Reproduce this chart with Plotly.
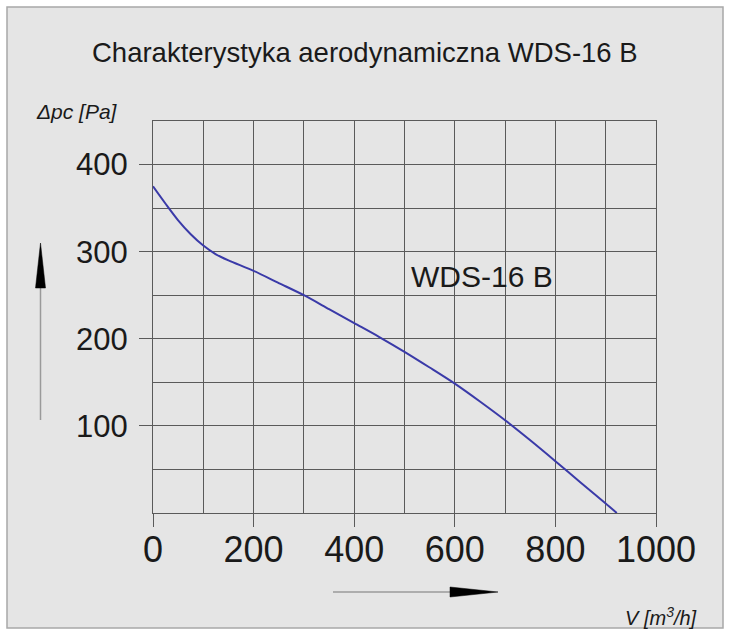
import plotly.graph_objects as go

# ---- data ----
flow_m3h = [0, 25, 50, 75, 100, 125, 150, 200, 250, 300, 350, 400, 450, 500,
            550, 600, 650, 700, 750, 800, 850, 900, 922]
pressure_pa = [375, 355, 336, 320, 307, 297, 290, 278, 264, 250, 234, 218, 202, 185,
               167, 148.5, 128, 106.5, 83.5, 59.5, 35, 11, 0]
x_tickvals = [0, 200, 400, 600, 800, 1000]
y_tickvals = [100, 200, 300, 400]
title_text = "Charakterystyka aerodynamiczna WDS-16 B"
series_label = "WDS-16 B"

W, H = 731, 631
L, R, T, B = 153, 75, 121, 118
PW, PH = W - L - R, H - T - B

def px(p):
    return (p - L) / PW

def py(p):
    return (H - B - p) / PH

FONT = "Liberation Sans, Arial, sans-serif"
GRID = "#5a5a5a"
BG = "#e5e5e5"

fig = go.Figure()
fig.add_trace(go.Scatter(
    x=flow_m3h, y=pressure_pa, mode="lines",
    line=dict(color="#3a3aa8", width=2, shape="spline", smoothing=0.8),
    hoverinfo="skip", showlegend=False,
))

shapes = [
    # outer frame
    dict(type="rect", xref="paper", yref="paper", layer="below",
         x0=px(7), x1=px(723), y0=py(628), y1=py(7),
         fillcolor=BG, line=dict(color="#a8a8a8", width=1.5)),
    # vertical arrow
    dict(type="line", xref="paper", yref="paper",
         x0=px(40.5), x1=px(40.5), y0=py(420), y1=py(285),
         line=dict(color="#9a9a9a", width=1.5)),
    dict(type="path", xref="paper", yref="paper",
         path=f"M {px(35.5)} {py(288)} L {px(45.5)} {py(288)} L {px(40.5)} {py(243)} Z",
         fillcolor="black", line=dict(color="black", width=0.5)),
    # horizontal arrow
    dict(type="line", xref="paper", yref="paper",
         x0=px(333), x1=px(455), y0=py(592), y1=py(592),
         line=dict(color="#9a9a9a", width=1.5)),
    dict(type="path", xref="paper", yref="paper",
         path=f"M {px(450)} {py(587)} L {px(450)} {py(597)} L {px(498)} {py(592)} Z",
         fillcolor="black", line=dict(color="black", width=0.5)),
]

annotations = [
    dict(text=title_text, xref="paper", yref="paper", x=px(365), y=py(52),
         xanchor="center", yanchor="middle", showarrow=False,
         font=dict(family=FONT, size=27.5, color="#1a1a1a")),
    dict(text="<i>Δpc [Pa]</i>", xref="paper", yref="paper", x=px(77), y=py(112),
         xanchor="center", yanchor="middle", showarrow=False,
         font=dict(family=FONT, size=21, color="#1a1a1a")),
    dict(text="<i>V [m<sup>3</sup>/h]</i>", xref="paper", yref="paper", x=px(699), y=py(616),
         xanchor="right", yanchor="middle", showarrow=False,
         font=dict(family=FONT, size=20, color="#1a1a1a")),
    dict(text=series_label, xref="x", yref="y", x=508, y=272,
         xanchor="left", yanchor="middle", showarrow=False,
         font=dict(family=FONT, size=30, color="#1a1a1a")),
]

fig.update_layout(
    width=W, height=H,
    margin=dict(l=L, r=R, t=T, b=B, pad=0),
    paper_bgcolor="white",
    plot_bgcolor=BG,
    shapes=shapes,
    annotations=annotations,
    showlegend=False,
    xaxis=dict(
        range=[0, 1000], tickvals=x_tickvals, ticktext=[str(v) for v in x_tickvals],
        ticks="outside", ticklen=13, tickcolor=GRID, tickwidth=1,
        ticklabelstandoff=-8,
        showgrid=True, gridcolor=GRID, gridwidth=1,
        minor=dict(dtick=100, tick0=0, showgrid=True, gridcolor=GRID, gridwidth=1, ticks=""),
        zeroline=False, showline=True, linecolor=GRID, linewidth=1, mirror=True,
        tickfont=dict(family=FONT, size=36, color="#1a1a1a"),
        fixedrange=True,
    ),
    yaxis=dict(
        range=[0, 450], tickvals=y_tickvals, ticktext=[str(v) for v in y_tickvals],
        ticks="outside", ticklen=13, tickcolor=GRID, tickwidth=1,
        ticklabelstandoff=5,
        showgrid=True, gridcolor=GRID, gridwidth=1,
        minor=dict(dtick=50, tick0=0, showgrid=True, gridcolor=GRID, gridwidth=1, ticks=""),
        zeroline=False, showline=True, linecolor=GRID, linewidth=1, mirror=True,
        tickfont=dict(family=FONT, size=31, color="#1a1a1a"),
        fixedrange=True,
    ),
)

fig.write_html(
    "out.html",
    config={"displayModeBar": False, "staticPlot": True},
    post_script="document.body.style.margin='0';document.body.style.overflow='hidden';",
)
